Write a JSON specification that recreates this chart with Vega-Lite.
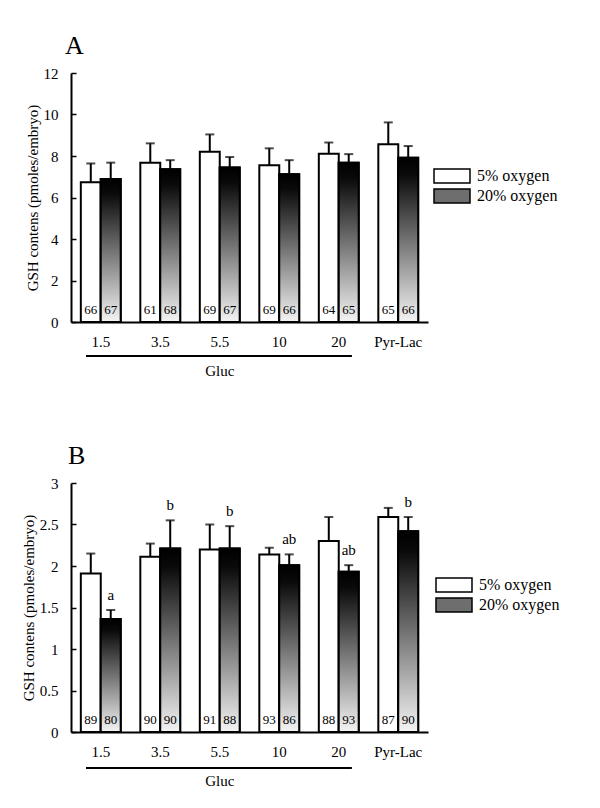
{
  "$schema": "https://vega.github.io/schema/vega-lite/v6.json",
  "padding": {"top": 33, "left": 21, "right": 5, "bottom": 5},
  "background": "white",
  "config": {
    "font": "Liberation Serif",
    "view": {"stroke": null},
    "axis": {
      "labelFont": "Liberation Serif", "titleFont": "Liberation Serif",
      "labelColor": "black", "titleColor": "black", "domainColor": "black", "tickColor": "black",
      "grid": false, "titleFontWeight": "normal", "labelFontSize": 15, "titleFontSize": 15, "domainWidth": 2
    },
    "title": {"font": "Liberation Serif", "fontSize": 26, "fontWeight": "normal", "color": "black", "anchor": "start", "frame": "group"}
  },
  "resolve": {"scale": {"fill": "independent"}, "legend": {"fill": "independent"}},
  "datasets": {
    "A": [
      {"gluc": "1.5", "oxygen": "5% oxygen", "mean": 6.73, "upper": 7.64, "n": "66"},
      {"gluc": "1.5", "oxygen": "20% oxygen", "mean": 6.89, "upper": 7.68, "n": "67"},
      {"gluc": "3.5", "oxygen": "5% oxygen", "mean": 7.68, "upper": 8.61, "n": "61"},
      {"gluc": "3.5", "oxygen": "20% oxygen", "mean": 7.36, "upper": 7.80, "n": "68"},
      {"gluc": "5.5", "oxygen": "5% oxygen", "mean": 8.21, "upper": 9.04, "n": "69"},
      {"gluc": "5.5", "oxygen": "20% oxygen", "mean": 7.45, "upper": 7.95, "n": "67"},
      {"gluc": "10", "oxygen": "5% oxygen", "mean": 7.56, "upper": 8.37, "n": "69"},
      {"gluc": "10", "oxygen": "20% oxygen", "mean": 7.12, "upper": 7.80, "n": "66"},
      {"gluc": "20", "oxygen": "5% oxygen", "mean": 8.11, "upper": 8.65, "n": "64"},
      {"gluc": "20", "oxygen": "20% oxygen", "mean": 7.68, "upper": 8.09, "n": "65"},
      {"gluc": "Pyr-Lac", "oxygen": "5% oxygen", "mean": 8.57, "upper": 9.62, "n": "65"},
      {"gluc": "Pyr-Lac", "oxygen": "20% oxygen", "mean": 7.92, "upper": 8.48, "n": "66"}
    ],
    "B": [
      {"gluc": "1.5", "oxygen": "5% oxygen", "mean": 1.91, "upper": 2.15, "n": "89", "letter": ""},
      {"gluc": "1.5", "oxygen": "20% oxygen", "mean": 1.36, "upper": 1.47, "n": "80", "letter": "a"},
      {"gluc": "3.5", "oxygen": "5% oxygen", "mean": 2.11, "upper": 2.27, "n": "90", "letter": ""},
      {"gluc": "3.5", "oxygen": "20% oxygen", "mean": 2.21, "upper": 2.55, "n": "90", "letter": "b"},
      {"gluc": "5.5", "oxygen": "5% oxygen", "mean": 2.20, "upper": 2.50, "n": "91", "letter": ""},
      {"gluc": "5.5", "oxygen": "20% oxygen", "mean": 2.21, "upper": 2.48, "n": "88", "letter": "b"},
      {"gluc": "10", "oxygen": "5% oxygen", "mean": 2.14, "upper": 2.22, "n": "93", "letter": ""},
      {"gluc": "10", "oxygen": "20% oxygen", "mean": 2.01, "upper": 2.14, "n": "86", "letter": "ab"},
      {"gluc": "20", "oxygen": "5% oxygen", "mean": 2.30, "upper": 2.59, "n": "88", "letter": ""},
      {"gluc": "20", "oxygen": "20% oxygen", "mean": 1.93, "upper": 2.01, "n": "93", "letter": "ab"},
      {"gluc": "Pyr-Lac", "oxygen": "5% oxygen", "mean": 2.59, "upper": 2.70, "n": "87", "letter": ""},
      {"gluc": "Pyr-Lac", "oxygen": "20% oxygen", "mean": 2.42, "upper": 2.59, "n": "90", "letter": "b"}
    ],
    "groupA": [{"group": "Gluc"}],
    "groupB": [{"group": "Gluc"}]
  },
  "spacing": 64,
  "vconcat": [
    {
      "title": {"text": "A", "dx": -6, "offset": 7},
      "width": 357,
      "height": 249,
      "layer": [
        {
          "data": {"name": "A"},
          "mark": {"type": "bar", "stroke": "black", "strokeWidth": 2},
          "encoding": {
            "x": {"field": "gluc", "type": "nominal", "scale": {"domain": ["1.5", "3.5", "5.5", "10", "20", "Pyr-Lac"], "paddingInner": 0.33, "paddingOuter": 0.165},
                  "axis": {"title": null, "ticks": false, "labelAngle": 0, "labelPadding": 12}},
            "xOffset": {"field": "oxygen", "type": "nominal", "scale": {"domain": ["5% oxygen", "20% oxygen"], "paddingInner": 0, "paddingOuter": 0}},
            "y": {"field": "mean", "type": "quantitative", "scale": {"domain": [0, 12], "nice": false},
                  "axis": {"title": "GSH contens (pmoles/embryo)", "values": [0,1,2,3,4,5,6,7,8,9,10,11,12],
                           "labelExpr": "datum.value % 2 == 0 ? format(datum.value, 'd') : ''",
                           "tickSize": -5, "tickWidth": 1.5, "labelPadding": 18, "titlePadding": 3}},
            "fill": {"field": "oxygen", "type": "nominal", "scale": {"domain": ["5% oxygen", "20% oxygen"], "range": ["white", "#6e6e6e"]},
                     "legend": {"title": null, "orient": "none", "legendX": 373, "legendY": 95,
                                "symbolType": "M-2.571,-1H2.571V1H-2.571Z", "symbolSize": 196,
                                "labelFont": "Liberation Serif", "labelFontSize": 16, "labelColor": "black",
                                "labelOffset": 17, "rowPadding": 0,
                                "encode": {"symbols": {
                                  "stroke": {"value": "black"},
                                  "strokeWidth": {"value": 2},
                                  "opacity": {"value": 1}}}}}
          }
        },
        {
          "data": {"name": "A"},
          "transform": [{"filter": "datum.oxygen === '20% oxygen'"}],
          "mark": {"type": "bar", "stroke": "black", "strokeWidth": 2,
                   "fill": {"gradient": "linear", "x1": 0, "y1": 0, "x2": 0, "y2": 1, "stops": [{"offset": 0, "color": "#000000"}, {"offset": 0.1, "color": "#0a0a0a"}, {"offset": 1, "color": "#f4f4f4"}]}},
          "encoding": {
            "x": {"field": "gluc", "type": "nominal"},
            "xOffset": {"field": "oxygen", "type": "nominal"},
            "y": {"field": "mean", "type": "quantitative"}
          }
        },
        {
          "data": {"name": "A"},
          "mark": {"type": "rule", "color": "black", "strokeWidth": 2},
          "encoding": {
            "x": {"field": "gluc", "type": "nominal"},
            "xOffset": {"field": "oxygen", "type": "nominal"},
            "y": {"field": "mean", "type": "quantitative"},
            "y2": {"field": "upper"}
          }
        },
        {
          "data": {"name": "A"},
          "mark": {"type": "tick", "color": "black", "thickness": 2, "size": 9},
          "encoding": {
            "x": {"field": "gluc", "type": "nominal"},
            "xOffset": {"field": "oxygen", "type": "nominal"},
            "y": {"field": "upper", "type": "quantitative"}
          }
        },
        {
          "data": {"name": "A"},
          "mark": {"type": "text", "baseline": "alphabetic", "dy": -8, "fontSize": 13, "fill": "black"},
          "encoding": {
            "x": {"field": "gluc", "type": "nominal"},
            "xOffset": {"field": "oxygen", "type": "nominal"},
            "y": {"datum": 0},
            "text": {"field": "n"}
          }
        },
        {
          "data": {"name": "groupA"},
          "mark": {"type": "rule", "color": "black", "strokeWidth": 2, "clip": false},
          "encoding": {
            "x": {"datum": "1.5", "bandPosition": 0.13},
            "x2": {"datum": "20", "bandPosition": 0.83},
            "y": {"datum": -1.64}
          }
        },
        {
          "data": {"name": "groupA"},
          "mark": {"type": "text", "baseline": "middle", "fontSize": 15, "fill": "black", "clip": false},
          "encoding": {
            "x": {"datum": "5.5"},
            "y": {"datum": -2.34},
            "text": {"field": "group"}
          }
        }
      ]
    },
    {
      "title": {"text": "B", "dx": -3, "offset": 7},
      "width": 357,
      "height": 249,
      "layer": [
        {
          "data": {"name": "B"},
          "mark": {"type": "bar", "stroke": "black", "strokeWidth": 2},
          "encoding": {
            "x": {"field": "gluc", "type": "nominal", "scale": {"domain": ["1.5", "3.5", "5.5", "10", "20", "Pyr-Lac"], "paddingInner": 0.33, "paddingOuter": 0.165},
                  "axis": {"title": null, "ticks": false, "labelAngle": 0, "labelPadding": 12}},
            "xOffset": {"field": "oxygen", "type": "nominal", "scale": {"domain": ["5% oxygen", "20% oxygen"], "paddingInner": 0, "paddingOuter": 0}},
            "y": {"field": "mean", "type": "quantitative", "scale": {"domain": [0, 3], "nice": false},
                  "axis": {"title": "GSH contens (pmoles/embryo)", "values": [0,0.25,0.5,0.75,1,1.25,1.5,1.75,2,2.25,2.5,2.75,3],
                           "labelExpr": "datum.value % 0.5 == 0 ? format(datum.value, '~g') : ''",
                           "tickSize": -5, "tickWidth": 1.5, "labelPadding": 18, "titlePadding": 3}},
            "fill": {"field": "oxygen", "type": "nominal", "scale": {"domain": ["5% oxygen", "20% oxygen"], "range": ["white", "#6e6e6e"]},
                     "legend": {"title": null, "orient": "none", "legendX": 375, "legendY": 94,
                                "symbolType": "M-2.571,-1H2.571V1H-2.571Z", "symbolSize": 196,
                                "labelFont": "Liberation Serif", "labelFontSize": 16, "labelColor": "black",
                                "labelOffset": 17, "rowPadding": 0,
                                "encode": {"symbols": {
                                  "stroke": {"value": "black"},
                                  "strokeWidth": {"value": 2},
                                  "opacity": {"value": 1}}}}}
          }
        },
        {
          "data": {"name": "B"},
          "transform": [{"filter": "datum.oxygen === '20% oxygen'"}],
          "mark": {"type": "bar", "stroke": "black", "strokeWidth": 2,
                   "fill": {"gradient": "linear", "x1": 0, "y1": 0, "x2": 0, "y2": 1, "stops": [{"offset": 0, "color": "#000000"}, {"offset": 0.1, "color": "#0a0a0a"}, {"offset": 1, "color": "#f4f4f4"}]}},
          "encoding": {
            "x": {"field": "gluc", "type": "nominal"},
            "xOffset": {"field": "oxygen", "type": "nominal"},
            "y": {"field": "mean", "type": "quantitative"}
          }
        },
        {
          "data": {"name": "B"},
          "mark": {"type": "rule", "color": "black", "strokeWidth": 2},
          "encoding": {
            "x": {"field": "gluc", "type": "nominal"},
            "xOffset": {"field": "oxygen", "type": "nominal"},
            "y": {"field": "mean", "type": "quantitative"},
            "y2": {"field": "upper"}
          }
        },
        {
          "data": {"name": "B"},
          "mark": {"type": "tick", "color": "black", "thickness": 2, "size": 9},
          "encoding": {
            "x": {"field": "gluc", "type": "nominal"},
            "xOffset": {"field": "oxygen", "type": "nominal"},
            "y": {"field": "upper", "type": "quantitative"}
          }
        },
        {
          "data": {"name": "B"},
          "mark": {"type": "text", "baseline": "alphabetic", "dy": -8, "fontSize": 13, "fill": "black"},
          "encoding": {
            "x": {"field": "gluc", "type": "nominal"},
            "xOffset": {"field": "oxygen", "type": "nominal"},
            "y": {"datum": 0},
            "text": {"field": "n"}
          }
        },
        {
          "data": {"name": "B"},
          "mark": {"type": "text", "baseline": "alphabetic", "dy": -10, "fontSize": 15, "fill": "black"},
          "encoding": {
            "x": {"field": "gluc", "type": "nominal"},
            "xOffset": {"field": "oxygen", "type": "nominal"},
            "y": {"field": "upper", "type": "quantitative"},
            "text": {"field": "letter"}
          }
        },
        {
          "data": {"name": "groupB"},
          "mark": {"type": "rule", "color": "black", "strokeWidth": 2, "clip": false},
          "encoding": {
            "x": {"datum": "1.5", "bandPosition": 0.13},
            "x2": {"datum": "20", "bandPosition": 0.83},
            "y": {"datum": -0.435}
          }
        },
        {
          "data": {"name": "groupB"},
          "mark": {"type": "text", "baseline": "middle", "fontSize": 15, "fill": "black", "clip": false},
          "encoding": {
            "x": {"datum": "5.5"},
            "y": {"datum": -0.589},
            "text": {"field": "group"}
          }
        }
      ]
    }
  ]
}
